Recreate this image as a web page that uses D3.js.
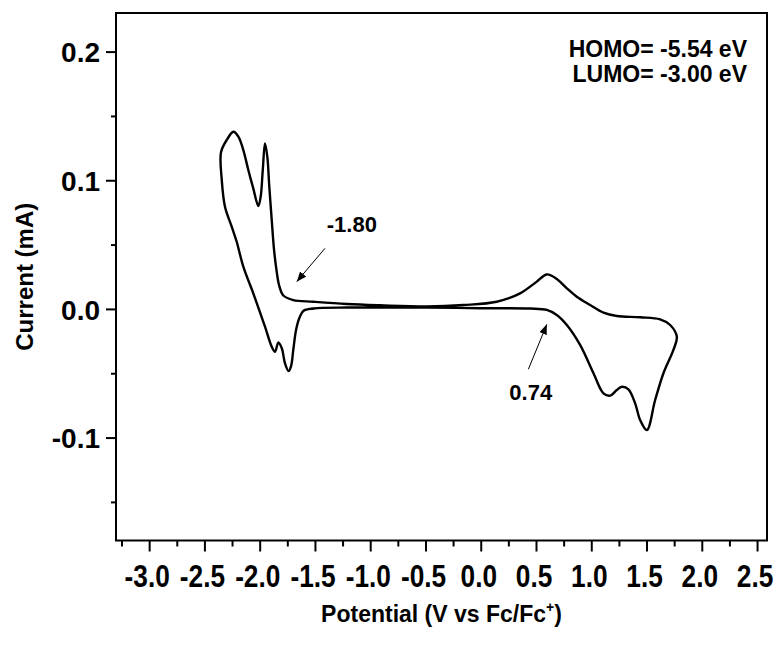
<!DOCTYPE html>
<html>
<head>
<meta charset="utf-8">
<script src="https://cdn.jsdelivr.net/npm/d3@7"></script>
<style>
	body { margin: 0; background: #fff; }
	text { font-family: "Liberation Sans", Arial, sans-serif; font-weight: bold; fill: #000; }
</style>
</head>
<body>
<div id="app"></div>
<script>
// cyclic voltammogram, one closed loop (V vs Fc/Fc+, mA)
const potential = [
	-2.350, -2.298, -2.238, -2.193, -2.148, -2.103, -2.058, -2.012, -1.991, -1.972,
	-1.952, -1.931, -1.913, -1.891, -1.870, -1.848, -1.825, -1.786, -1.696, -1.514,
	-1.212, -0.911, -0.488, -0.157, 0.145, 0.356, 0.507, 0.598, 0.688, 0.779,
	0.869, 0.990, 1.110, 1.231, 1.442, 1.623, 1.714, 1.774,
	1.743, 1.653, 1.578, 1.503, 1.442, 1.397, 1.336, 1.277, 1.231, 1.171,
	1.110, 1.020, 0.899, 0.779, 0.688, 0.598, 0.447, -0.006, -0.488, -0.911,
	-1.212, -1.514, -1.605, -1.641, -1.671, -1.696, -1.716, -1.739, -1.771, -1.800,
	-1.831, -1.861, -1.891, -1.952, -2.058, -2.148, -2.208, -2.253, -2.314, -2.343
];
const current = [
	0.1217, 0.1313, 0.1377, 0.1339, 0.1235, 0.1080, 0.0937, 0.0800, 0.0872, 0.1080,
	0.1287, 0.1183, 0.0950, 0.0691, 0.0458, 0.0302, 0.0186, 0.0104, 0.0069, 0.0056,
	0.0038, 0.0028, 0.0019, 0.0030, 0.0056, 0.0121, 0.0212, 0.0268, 0.0233, 0.0160,
	0.0095, 0.0030, -0.0029, -0.0055, -0.0065, -0.0081, -0.0125, -0.0216,
	-0.0319, -0.0500, -0.0708, -0.0941, -0.0863, -0.0734, -0.0625, -0.0605, -0.0630, -0.0674,
	-0.0656, -0.0500, -0.0280, -0.0125, -0.0047, -0.0008, 0.0003, 0.0005, 0.0011, 0.0011,
	0.0011, 0.0003, -0.0016, -0.0071, -0.0164, -0.0319, -0.0444, -0.0483, -0.0423, -0.0306,
	-0.0261, -0.0333, -0.0294, -0.0138, 0.0121, 0.0328, 0.0522, 0.0639, 0.0794, 0.1002
];

const xMajor = [-3.0, -2.5, -2.0, -1.5, -1.0, -0.5, 0.0, 0.5, 1.0, 1.5, 2.0, 2.5];
const xMinor = [-3.25, -2.75, -2.25, -1.75, -1.25, -0.75, -0.25, 0.25, 0.75, 1.25, 1.75, 2.25];
const yMajor = [0.2, 0.1, 0.0, -0.1];
const yMinor = [0.15, 0.05, -0.05, -0.15];

// [text, label V, label I, arrow from V, I, arrow to V, I]
const notes = [
	["-1.80", -1.393, 0.060, -1.409, 0.0471, -1.665, 0.0212],
	["0.74", 0.259, -0.0708, 0.431, -0.0469, 0.598, -0.0120]
];
const levels = ["HOMO= -5.54 eV", "LUMO= -3.00 eV"];

const W = 780, H = 646;
const box = { left: 116, top: 13, right: 767, bottom: 540.5 };
const fmt = d => d.toFixed(1);   // plain hyphen, not the unicode minus

const svg = d3.select("#app").append("svg")
	.attr("width", W)
	.attr("height", H);

const x = d3.scaleLinear().domain([-3.3, 2.59]).range([box.left, box.right]);
const y = d3.scaleLinear().domain([0.23, -0.18]).range([box.top, box.bottom]);

svg.append("defs").append("marker")
	.attr("id", "head")
	.attr("markerUnits", "userSpaceOnUse")
	.attr("markerWidth", 10)
	.attr("markerHeight", 8)
	.attr("refX", 10)
	.attr("refY", 4)
	.attr("orient", "auto")
	.append("path")
	.attr("d", "M0,0L10,4L0,8z")
	.attr("fill", "#000");

// x axis
const gx = svg.append("g").attr("transform", `translate(0,${box.bottom})`);
gx.append("g")
	.call(d3.axisBottom(x).tickValues(xMinor).tickSize(6).tickFormat(""))
	.call(g => g.select(".domain").remove());
gx.append("g")
	.call(d3.axisBottom(x).tickValues(xMajor).tickSize(11).tickFormat(fmt))
	.call(g => g.select(".domain").remove())
	.call(g => g.selectAll("text")
		.attr("x", -3)
		.attr("y", 47)
		.attr("dy", 0)
		.attr("font-size", 32)
		.attr("transform", "scale(0.82,1)"));

// y axis
const gy = svg.append("g").attr("transform", `translate(${box.left},0)`);
gy.append("g")
	.call(d3.axisLeft(y).tickValues(yMinor).tickSize(5).tickFormat(""))
	.call(g => g.select(".domain").remove());
gy.append("g")
	.call(d3.axisLeft(y).tickValues(yMajor).tickSize(10).tickPadding(6).tickFormat(fmt))
	.call(g => g.select(".domain").remove())
	.call(g => g.selectAll("text").attr("font-size", 28).attr("dy", "0.36em"));

svg.selectAll(".tick line").attr("stroke", "#000").attr("stroke-width", 2);

svg.append("rect")
	.attr("x", box.left)
	.attr("y", box.top)
	.attr("width", box.right - box.left)
	.attr("height", box.bottom - box.top)
	.attr("fill", "none")
	.attr("stroke", "#000")
	.attr("stroke-width", 2);

// curve
const line = d3.line()
	.x(i => x(potential[i]))
	.y(i => y(current[i]))
	.curve(d3.curveCatmullRomClosed.alpha(0.5));

svg.append("path")
	.datum(d3.range(potential.length))
	.attr("d", line)
	.attr("fill", "none")
	.attr("stroke", "#000")
	.attr("stroke-width", 2.4)
	.attr("stroke-linejoin", "round");

// annotations
notes.forEach(n => {
	svg.append("text")
		.attr("x", x(n[1]))
		.attr("y", y(n[2]))
		.attr("font-size", 22)
		.text(n[0]);
	svg.append("line")
		.attr("x1", x(n[3])).attr("y1", y(n[4]))
		.attr("x2", x(n[5])).attr("y2", y(n[6]))
		.attr("stroke", "#000")
		.attr("stroke-width", 1)
		.attr("marker-end", "url(#head)");
});

svg.selectAll(".level")
	.data(levels)
	.enter()
	.append("text")
	.attr("class", "level")
	.attr("x", 747)
	.attr("y", (d, i) => 57 + i * 24.5)
	.attr("text-anchor", "end")
	.attr("font-size", 23)
	.text(d => d);

// axis titles
svg.append("text")
	.attr("transform", `translate(33,${(box.top + box.bottom) / 2}) rotate(-90)`)
	.attr("text-anchor", "middle")
	.attr("font-size", 24)
	.text("Current (mA)");

const xt = svg.append("text")
	.attr("x", (box.left + box.right) / 2)
	.attr("y", 622)
	.attr("text-anchor", "middle")
	.attr("font-size", 23);
xt.append("tspan").text("Potential (V vs Fc/Fc");
xt.append("tspan").attr("font-size", 14).attr("dy", -10).text("+");
xt.append("tspan").attr("dy", 10).text(")");
</script>
</body>
</html>
